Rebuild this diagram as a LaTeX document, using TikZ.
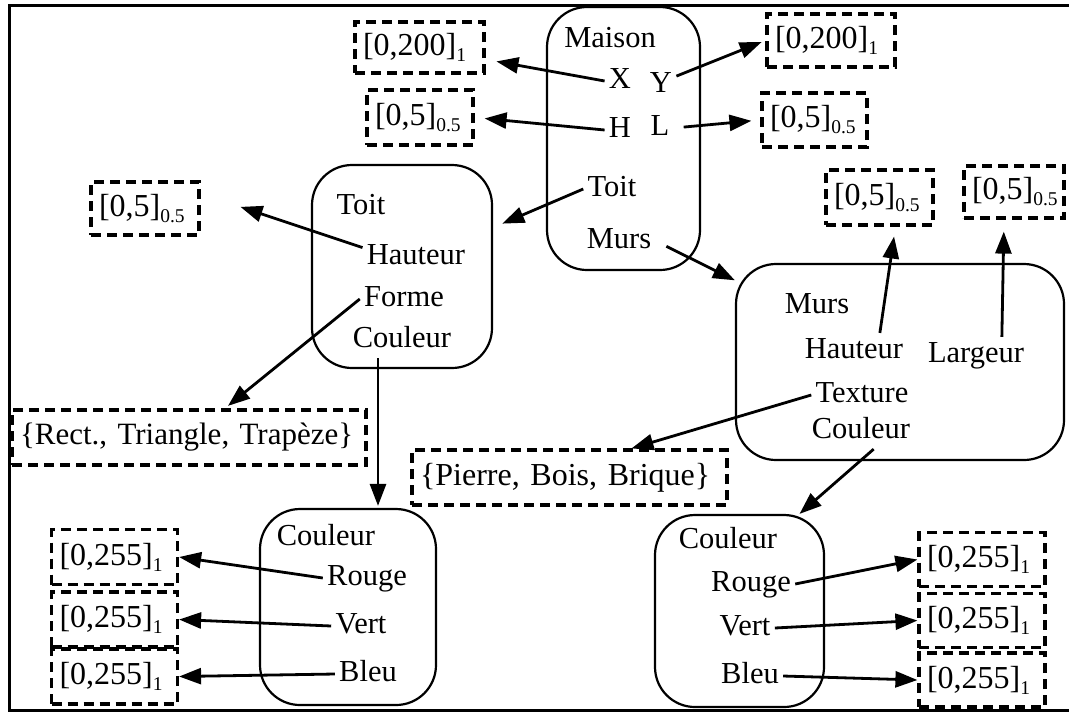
\documentclass[tikz,border=0pt]{standalone}
\usepackage{fontspec}
\setmainfont{Liberation Serif}
\usetikzlibrary{arrows.meta, calc}
\newcommand{\idx}[1]{\raisebox{-3pt}{\fontsize{9.75}{11}\selectfont #1}}
\tikzset{
    % Box styles
    objbox/.style={
        rectangle,
        draw=black,
        line width=1.1pt,
        rounded corners=20pt,
        inner sep=0pt
    },
    valbox/.style={
        rectangle,
        draw=black,
        line width=1.6pt,
        dash pattern=on 5pt off 3pt,
        inner xsep=4pt,
        inner ysep=0pt,
        align=left,
        font=\fontsize{16}{19}\selectfont
    },
    lbl/.style={
        inner sep=2pt,
        text height=10.7pt,
        text depth=3pt,
        font=\fontsize{15.25}{18}\selectfont
    },
    % Arrow styles
    arr/.style={
        -{Triangle[length=11pt,width=8pt]},
        line width=1.4pt,
        black
    },
    frameline/.style={
        line width=1.5pt
    }
}
\begin{document}
\begin{tikzpicture}[x=0.5pt,y=-0.5pt]
    \useasboundingbox (0,0) rectangle (1069,713);
    \draw[frameline] (1069,5) -- (9,5) -- (9,710) -- (1069,710);

    % Maison
    \node[objbox,minimum width=76.5pt,minimum height=131.5pt] (maison) at (623.5,138.5) {};
    \node[lbl] (mT) at (610,40) {Maison};
    \node[lbl] (mX) at (620,81) {X};
    \node[lbl] (mY) at (661,85) {Y};
    \node[lbl] (mH) at (620,130) {H};
    \node[lbl] (mL) at (660,128) {L};
    \node[lbl] (mToit) at (612,189) {Toit};
    \node[lbl] (mMurs) at (619,241) {Murs};

    \node[valbox,text width=56.5pt,minimum height=25.5pt] (vXl) at (419.5,47.5) {[0,200]\idx{1}};
    \node[valbox,text width=45pt,minimum height=27.5pt] (vHl) at (420,117.5) {[0,5]\idx{0.5}};
    \node[valbox,text width=56pt,minimum height=26.5pt] (vYr) at (831,40.5) {[0,200]\idx{1}};
    \node[valbox,text width=44.5pt,minimum height=27pt] (vLr) at (814.5,120) {[0,5]\idx{0.5}};

    % Toit
    \node[objbox,minimum width=90pt,minimum height=101.5pt] (toit) at (402,266.5) {};
    \node[lbl] (tT) at (361,207) {Toit};
    \node[lbl] (tHaut) at (416,257) {Hauteur};
    \node[lbl] (tForme) at (404,299) {Forme};
    \node[lbl] (tCoul) at (402,340) {Couleur};

    \node[valbox,text width=46pt,minimum height=26.5pt] (vTh) at (145,208.5) {[0,5]\idx{0.5}};
    \node[valbox,text width=169pt,minimum height=27.5pt,font=\fontsize{15.5}{18}\selectfont] (vRect) at (189,437.5) {\{Rect., Triangle, Trapèze\}};

    % Murs
    \node[objbox,minimum width=164pt,minimum height=98pt] (murs) at (900,362) {};
    \node[lbl] (wT) at (817,306) {Murs};
    \node[lbl] (wHaut) at (854,351) {Hauteur};
    \node[lbl] (wLarg) at (976,355) {Largeur};
    \node[lbl] (wText) at (862,395) {Texture};
    \node[lbl] (wCoul) at (861,431) {Couleur};

    \node[valbox,text width=45.5pt,minimum height=27.5pt] (vWH) at (879.5,197.5) {[0,5]\idx{0.5}};
    \node[valbox,text width=42pt,minimum height=26pt] (vWL) at (1014,192) {[0,5]\idx{0.5}};
    \node[valbox,text width=149.5pt,minimum height=27.5pt] (pBox) at (569.5,477.5) {\{Pierre, Bois, Brique\}};

    % Couleur (Toit)
    \node[objbox,minimum width=88pt,minimum height=98pt] (coulT) at (348,607) {};
    \node[lbl] (lcT) at (326,538) {Couleur};
    \node[lbl] (lcR) at (367,578) {Rouge};
    \node[lbl] (lcV) at (361,626) {Vert};
    \node[lbl] (lcB) at (368,674) {Bleu};
    \foreach \y/\n in {557/lv1,619.5/lv2,676.5/lv3} {
        \node[valbox,text width=55pt,minimum height=27.5pt] (\n) at (114.5,\y) {[0,255]\idx{1}};
    }

    % Couleur (Murs)
    \node[objbox,minimum width=84.5pt,minimum height=96pt] (coulM) at (739.5,611) {};
    \node[lbl] (rcT) at (728,541) {Couleur};
    \node[lbl] (rcR) at (751,584) {Rouge};
    \node[lbl] (rcV) at (745,628) {Vert};
    \node[lbl] (rcB) at (750,676) {Bleu};
    \foreach \y/\n in {559.5/rv1,620.5/rv2,680/rv3} {
        \node[valbox,text width=55pt,minimum height=27pt] (\n) at (982,\y) {[0,255]\idx{1}};
    }

    % Arrows
    \draw[arr,shorten >=5.5pt] (mX.west) -- (vXl);
    \draw[arr,shorten >=2pt] (mY.30) -- (vYr.west);
    \draw[arr,shorten >=5pt] (mH.west) -- (vHl.east);
    \draw[arr,shorten <=5pt,shorten >=4.5pt] (mL.east) -- (vLr.west);
    \draw[arr,shorten >=5pt] (mToit.west) -- (toit);
    \draw[arr,shorten <=6pt] (mMurs.east) -- (murs);

    \draw[arr,shorten >=21pt] (tHaut.170) -- (vTh.15);
    \draw[arr,shorten >=2pt] (tForme.west) -- (vRect);
    \coordinate (cT) at ([xshift=-12pt]tCoul.south);
    \draw[arr,shorten >=1pt] (cT) -- (cT |- coulT.north);

    \draw[arr,shorten >=5pt] (wHaut.35) -- ([xshift=8pt]vWH.south);
    \draw[arr,shorten >=6pt] (wLarg.35) -- ([xshift=-5pt]vWL.south);
    \draw[arr] (wText.west) -- ([xshift=31pt]pBox.north);
    \draw[arr] (wCoul.-55) -- ([xshift=30pt]coulM.north);

    \foreach \c/\v in {lcR/lv1,lcV/lv2,lcB/lv3} {
        \draw[arr] (\c.west) -- (\v.east);
    }
    \foreach \c/\v in {rcR/rv1,rcV/rv2,rcB/rv3} {
        \draw[arr] (\c.east) -- (\v.west);
    }
\end{tikzpicture}
\end{document}
